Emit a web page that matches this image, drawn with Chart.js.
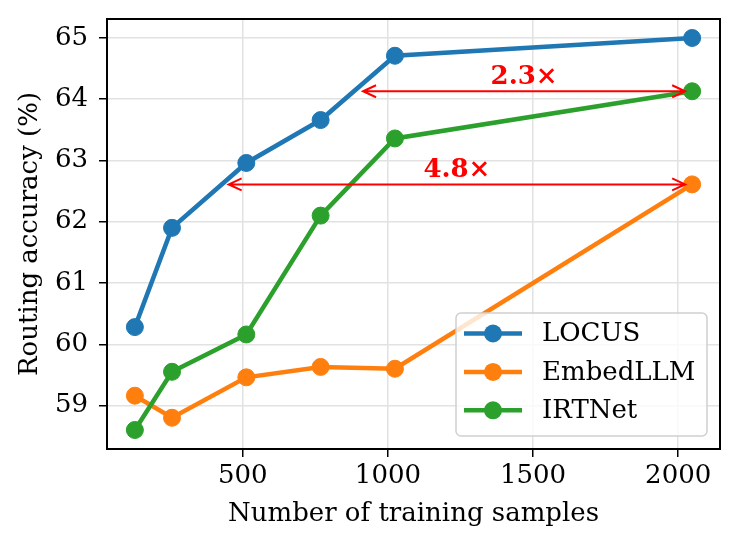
<!DOCTYPE html>
<html>
<head>
<meta charset="utf-8">
<script src="https://cdn.jsdelivr.net/npm/chart.js@4.4.0/dist/chart.umd.min.js"></script>
<style>
  html, body { margin: 0; padding: 0; background: #fff; }
  #wrap { width: 740px; height: 550px; }
</style>
</head>
<body>
<div id="wrap"><canvas id="chart" width="740" height="550"></canvas></div>
<script>
// data
const samples = [128, 256, 512, 768, 1024, 2048];
const locus = [60.28, 61.90, 62.96, 63.66, 64.71, 65.00];
const embedLLM = [59.16, 58.80, 59.46, 59.63, 59.60, 62.61];
const irtNet = [58.60, 59.55, 60.16, 62.10, 63.36, 64.13];

const xTicks = [500, 1000, 1500, 2000];
const yTicks = [59, 60, 61, 62, 63, 64, 65];

// speed-up arrows (from, to, height, label)
const arrowFrom = [890, 427];
const arrowTo = [2048, 2048];
const arrowY = [64.13, 62.61];
const arrowLabels = ['2.3×', '4.8×'];

const SERIF = "'DejaVu Serif', serif";
const FS = 26;
Chart.defaults.font.family = SERIF;
Chart.defaults.color = '#000';

function toPoints(ys) {
  return samples.map((x, i) => ({ x: x, y: ys[i] }));
}

function series(label, ys, color, order) {
  return {
    label: label,
    data: toPoints(ys),
    borderColor: color,
    backgroundColor: color,
    pointBackgroundColor: color,
    pointBorderColor: color,
    borderWidth: 4.5,
    pointRadius: 8.5,
    pointBorderWidth: 1,
    pointHoverRadius: 8.5,
    tension: 0,
    order: order
  };
}

// frame, arrows and the legend box drawn by hand
const extras = {
  id: 'extras',
  afterDatasetsDraw(chart) {
    const ctx = chart.ctx;
    const area = chart.chartArea;
    const xs = chart.scales.x;
    const ys = chart.scales.y;
    ctx.save();

    // full frame
    ctx.strokeStyle = '#000';
    ctx.lineWidth = 2;
    ctx.strokeRect(area.left, area.top, area.right - area.left, area.bottom - area.top);

    // double arrows
    ctx.strokeStyle = '#ff0000';
    ctx.fillStyle = '#ff0000';
    ctx.lineWidth = 2;
    for (let i = 0; i < arrowFrom.length; i++) {
      const y = ys.getPixelForValue(arrowY[i]);
      const x1 = xs.getPixelForValue(arrowFrom[i]) + 7;
      const x2 = xs.getPixelForValue(arrowTo[i]) - 7;
      ctx.beginPath();
      ctx.moveTo(x1, y);
      ctx.lineTo(x2, y);
      ctx.moveTo(x1 + 13, y - 6);
      ctx.lineTo(x1, y);
      ctx.lineTo(x1 + 13, y + 6);
      ctx.moveTo(x2 - 13, y - 6);
      ctx.lineTo(x2, y);
      ctx.lineTo(x2 - 13, y + 6);
      ctx.stroke();

      const mid = xs.getPixelForValue((arrowFrom[i] + arrowTo[i]) / 2);
      ctx.font = 'bold ' + FS + 'px ' + SERIF;
      ctx.textAlign = 'center';
      ctx.textBaseline = 'alphabetic';
      ctx.fillText(arrowLabels[i], mid, y - 7);
    }

    // legend in the lower right corner
    const boxW = 251, boxH = 123;
    const bx = area.right - 13 - boxW;
    const by = area.bottom - 13 - boxH;
    ctx.beginPath();
    ctx.roundRect(bx, by, boxW, boxH, 5);
    ctx.fillStyle = 'rgba(255,255,255,0.8)';
    ctx.fill();
    ctx.strokeStyle = '#d0d0d0';
    ctx.lineWidth = 1.5;
    ctx.stroke();

    chart.data.datasets.forEach((ds, i) => {
      const cy = by + 20.5 + i * 38.4;
      ctx.strokeStyle = ds.borderColor;
      ctx.lineWidth = 4.5;
      ctx.beginPath();
      ctx.moveTo(bx + 8, cy);
      ctx.lineTo(bx + 66, cy);
      ctx.stroke();
      ctx.fillStyle = ds.borderColor;
      ctx.beginPath();
      ctx.arc(bx + 37, cy, 9, 0, Math.PI * 2);
      ctx.fill();
      ctx.fillStyle = '#000';
      ctx.font = FS + 'px ' + SERIF;
      ctx.textAlign = 'left';
      ctx.textBaseline = 'middle';
      ctx.fillText(ds.label, bx + 86, cy + 1);
    });

    ctx.restore();
  }
};

const gridStyle = { color: '#e2e2e2', lineWidth: 1.5, tickColor: '#000', tickLength: 8, tickWidth: 1.5 };

const chartConfig = {
  type: 'line',
  data: {
    datasets: [
      series('LOCUS', locus, '#1f77b4', 3),
      series('EmbedLLM', embedLLM, '#ff7f0e', 2),
      series('IRTNet', irtNet, '#2ca02c', 1)
    ]
  },
  options: {
    responsive: false,
    animation: false,
    devicePixelRatio: 1,
    layout: { padding: { top: 19, right: 20, left: 0, bottom: 0 } },
    plugins: {
      legend: { display: false },
      tooltip: { enabled: false }
    },
    scales: {
      x: {
        type: 'linear',
        min: 32,
        max: 2144,
        afterBuildTicks: (scale) => { scale.ticks = xTicks.map(v => ({ value: v })); },
        afterFit: (scale) => {
          scale.height = 101;
          scale.paddingLeft = 0;
          scale.paddingRight = 0;
        },
        ticks: { font: { size: FS }, padding: 4, maxRotation: 0, callback: (v) => String(v) },
        grid: gridStyle,
        border: { color: '#000', width: 2 },
        title: {
          display: true,
          text: 'Number of training samples',
          font: { size: FS },
          padding: { top: 0, bottom: 20 }
        }
      },
      y: {
        type: 'linear',
        min: 58.29,
        max: 65.31,
        afterBuildTicks: (scale) => { scale.ticks = yTicks.map(v => ({ value: v })); },
        afterFit: (scale) => {
          scale.width = 107;
          scale.paddingTop = 0;
          scale.paddingBottom = 0;
        },
        ticks: { font: { size: FS }, padding: 11, callback: (v) => String(v) },
        grid: gridStyle,
        border: { color: '#000', width: 2 },
        title: {
          display: true,
          text: 'Routing accuracy (%)',
          font: { size: FS },
          padding: { top: 15, bottom: 0 }
        }
      }
    }
  },
  plugins: [extras]
};

new Chart(document.getElementById('chart'), chartConfig);
</script>
</body>
</html>
